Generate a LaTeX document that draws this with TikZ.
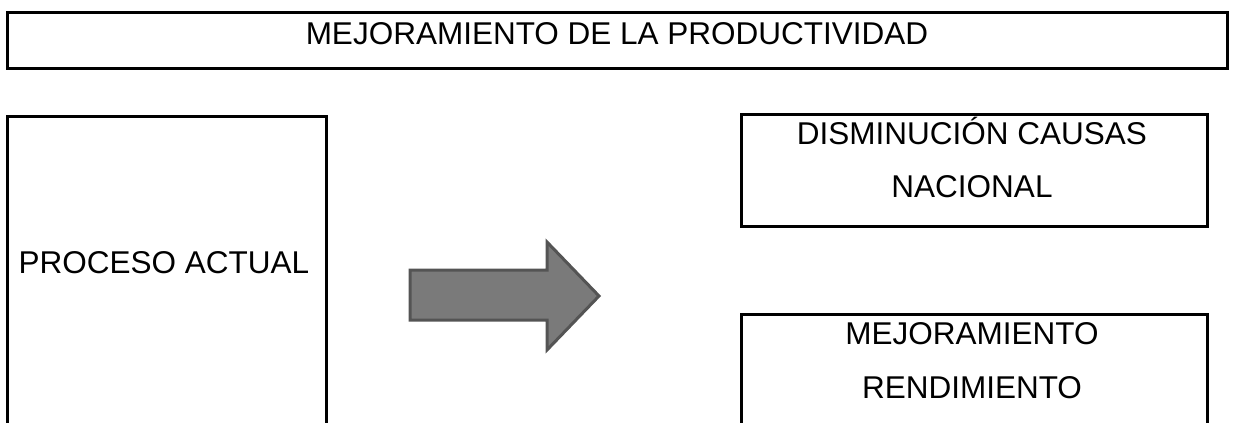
\documentclass[tikz,border=0pt]{standalone}
\usepackage{fontspec}
\setmainfont{Liberation Sans}
\begin{document}
\begin{tikzpicture}[x=1pt,y=-1pt,
  box/.style={draw=black,line width=3pt,rectangle,inner sep=0pt,fill=none},
  lbl/.style={font=\fontsize{31.5}{31.5}\selectfont,anchor=base,inner sep=0pt,text=black},
  bigarrow/.style={draw=black!67,line width=3pt,fill=black!52,line join=miter}]
\useasboundingbox (0,0) rectangle (1235,423);
\clip (0,0) rectangle (1235,423);
% top box
\node[box,minimum width=1220pt,minimum height=55.5pt] (top) at (617.5,40.25) {};
\node[lbl] (toptxt) at (617,44) {MEJORAMIENTO DE LA PRODUCTIVIDAD};
% left box (open at bottom of picture)
\node[box,minimum width=318.5pt,minimum height=340pt] (left) at (166.75,286.5) {};
\node[lbl] (lefttxt) at (164,273) {PROCESO ACTUAL};
% right upper box
\node[box,minimum width=466pt,minimum height=111.7pt] (ru) at (974.5,170.65) {};
\node[lbl] (ru1) at (972,144) {DISMINUCIÓN CAUSAS};
\node[lbl] (ru2) at (972,197) {NACIONAL};
% right lower box (open at bottom)
\node[box,minimum width=466pt,minimum height=140pt] (rl) at (974.5,384.8) {};
\node[lbl] (rl1) at (972,344) {MEJORAMIENTO};
\node[lbl] (rl2) at (972,398) {RENDIMIENTO};
% arrow
\coordinate (a1) at (410,270);
\coordinate (a2) at (547,270);
\coordinate (a3) at (547,242);
\coordinate (a4) at (599,296);
\coordinate (a5) at (547,350);
\coordinate (a6) at (547,320);
\coordinate (a7) at (410,320);
\draw[bigarrow] (a1) -- (a2) -- (a3) -- (a4) -- (a5) -- (a6) -- (a7) -- cycle;
\end{tikzpicture}
\end{document}
